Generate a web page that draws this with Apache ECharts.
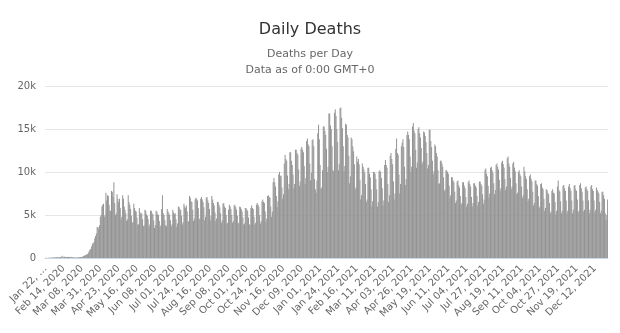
<!DOCTYPE html>
<html>
<head>
<meta charset="utf-8">
<script src="https://cdn.jsdelivr.net/npm/echarts@6/dist/echarts.min.js"></script>
<style>
html,body{margin:0;padding:0;background:#fff;}
#chart{width:620px;height:333px;}
</style>
</head>
<body>
<div id="chart"></div>
<script>
// First day of the series and number of days
const startDate = [2020, 0, 22];
// Daily deaths, one row per week (Wed..Tue)
const dailyDeaths = [
17,8,16,14,26,26,38,
43,46,45,57,64,66,73,
73,86,89,97,108,97,108,
254,13,143,142,106,98,136,
120,118,109,97,150,71,78,
60,45,60,70,58,70,80,
96,100,103,104,104,202,215,
272,335,360,425,425,620,800,
980,1050,1350,1650,1720,1850,2300,
2560,2850,3600,3600,3400,3800,4800,
5000,6000,6200,6300,4800,5000,7600,
6700,7300,7200,6200,5500,5500,7800,
7700,7100,8800,6400,5000,5200,7400,
6900,6500,6900,5800,4500,4800,7300,
6900,6000,5600,5200,4300,4500,7300,
6500,6200,5700,4900,4100,4200,6300,
5800,5500,5400,4700,3900,3900,5800,
5300,5100,5200,4500,3700,3800,5600,
5500,5100,4900,4500,3600,3900,5500,
5500,5200,5100,4400,3500,3800,5500,
5400,5100,5000,4300,3600,3800,5700,
7300,5200,5000,4400,3800,3700,5700,
5400,5200,5000,4400,3700,3900,5600,
5300,5100,5200,4500,3600,4000,6000,
5900,5600,5600,4900,3900,4200,6300,
6000,5800,6100,5400,4200,4300,7200,
7000,6600,6500,5600,4300,4600,6800,
7000,6900,6700,5800,4500,4600,6900,
7100,6800,6500,5900,4400,4800,7000,
7100,6700,6400,5700,4400,4900,7200,
6800,6400,6100,5300,4300,4600,6500,
6500,6200,5900,5200,4100,4400,6300,
6400,6000,5800,5000,4000,4100,5600,
6200,6000,5700,5000,4100,4300,6100,
6200,5900,5600,4900,4000,4100,6000,
5900,5700,5400,4700,3900,4000,5800,
5800,5600,5500,4700,3900,3900,5800,
6100,5800,5700,4800,3900,4100,6200,
6400,6200,6000,5000,4000,4300,6600,
6800,6500,6400,5400,4200,4600,7200,
7300,7100,7000,6000,4800,5400,8800,
9300,8800,8300,7200,5900,6600,9700,
10000,9500,9600,8200,6900,7400,11000,
12000,11500,11300,9600,8000,8600,12300,
12300,11300,10800,9700,8100,8600,12600,
12600,12200,12000,10300,8400,8900,12700,
12900,12600,12300,10700,8600,9300,13600,
13900,13200,13000,11000,9000,9900,13700,
13800,13000,9200,8000,7600,9000,14500,
15500,13800,10800,8000,8200,10200,15300,
15300,14800,14300,12700,10000,10600,16800,
16800,15400,15000,13000,10200,10100,16900,
17300,16500,15000,13500,10200,10900,17400,
17500,16300,15100,13000,10100,10700,15600,
15500,14300,14000,11900,8700,9500,14000,
13800,13000,12400,10900,8000,8200,11800,
11200,11500,10900,9100,6800,7300,11000,
10600,10300,9900,8600,6500,6800,10500,
10500,9800,9400,8000,6000,6600,10000,
10000,9800,9200,8000,6000,6500,10100,
10200,10000,9300,8100,6100,6700,10800,
11400,10800,10500,8600,6500,7300,11900,
12200,11500,10900,8900,6800,7500,12700,
13900,12200,12000,9700,7500,8600,13000,
13400,13800,12900,10600,8500,9200,14300,
14700,14300,13800,11800,10000,10600,15300,
15700,14800,14500,12600,10500,11100,15000,
15200,14500,14000,12800,10900,11200,14700,
14600,14200,13500,12200,10400,10800,14900,
14900,13600,12900,11300,9700,10100,13200,
13000,12200,11800,10200,8600,8700,11300,
11300,11000,10600,9400,7800,8000,10200,
10200,10000,9800,8400,7000,7300,9400,
9400,9000,8800,7700,6400,6700,8900,
9000,8500,8200,7200,6200,6400,8800,
8800,8400,8100,7100,6000,6300,8800,
9000,8600,8300,7100,6000,6400,8700,
8700,8400,8200,7200,6100,6500,8900,
8900,8600,8400,7400,6300,6800,10200,
10400,9800,9500,8400,7000,7500,10500,
10600,10200,9900,8700,7400,7900,10800,
11000,10600,10300,9100,7800,8100,11100,
11300,10900,10500,9200,7900,8300,11600,
11800,11000,10600,9300,8000,8300,11000,
11200,10500,10100,8700,7400,7600,10000,
10200,9700,9500,8300,7000,7300,10600,
10100,9500,9200,8000,6600,6900,9500,
9700,9200,8900,7700,6100,6400,9000,
9000,8600,8400,7200,5800,6000,8600,
8700,8200,8000,6900,5500,5800,8000,
7900,7600,7400,6400,5200,5400,7800,
8000,7600,7500,6500,5100,5500,8300,
9000,7900,7700,6600,5200,5500,8400,
8500,8100,7800,6700,5200,5500,8300,
8600,8100,7800,6700,5200,5600,8400,
8500,8000,7800,6800,5300,5500,8500,
8700,8100,7700,6700,5400,5600,8200,
8300,8000,7800,6700,5200,5600,8300,
8500,8000,7800,6700,5300,5600,8200,
7900,7700,7500,6500,5200,5500,7700,
7700,7300,6900,5200,4400,5000,6800
];
const yTicks = [0, 5000, 10000, 15000, 20000];
const yTickLabels = ['0', '5k', '10k', '15k', '20k'];
const titleText = 'Daily Deaths';
const subtitleLines = ['Deaths per Day', 'Data as of 0:00 GMT+0'];

const monthNames = ['Jan','Feb','Mar','Apr','May','Jun','Jul','Aug','Sep','Oct','Nov','Dec'];
const categories = dailyDeaths.map((_, i) => {
  const d = new Date(Date.UTC(startDate[0], startDate[1], startDate[2] + i));
  const dd = String(d.getUTCDate()).padStart(2, '0');
  return monthNames[d.getUTCMonth()] + ' ' + dd + ', ' + d.getUTCFullYear();
});

const font = 'DejaVu Sans, Lucida Grande, sans-serif';
const chart = echarts.init(document.getElementById('chart'), null, {renderer: 'canvas'});
chart.setOption({
  animation: false,
  backgroundColor: '#fff',
  title: [
    {text: titleText, left: 'center', top: 17, textStyle: {fontFamily: font, fontSize: 16, fontWeight: 'normal', color: '#333'}},
    {text: subtitleLines[0], left: 'center', top: 44, textStyle: {fontFamily: font, fontSize: 11, fontWeight: 'normal', color: '#666'}},
    {text: subtitleLines[1], left: 'center', top: 60, textStyle: {fontFamily: font, fontSize: 11, fontWeight: 'normal', color: '#666'}}
  ],
  grid: {left: 45, right: 12, top: 86, bottom: 75, containLabel: false},
  xAxis: {
    type: 'category',
    data: categories,
    boundaryGap: true,
    axisLine: {show: true, lineStyle: {color: '#ccd6eb'}},
    axisTick: {show: false},
    axisLabel: {
      interval: 22,
      rotate: 45,
      margin: 9,
      color: '#666',
      fontFamily: font,
      fontSize: 10,
      formatter: (v, i) => (i === 0 ? v.slice(0, 7) + ' \u2026' : v)
    },
    splitLine: {show: false}
  },
  yAxis: {
    type: 'value',
    min: yTicks[0],
    max: yTicks[yTicks.length - 1],
    interval: yTicks[1] - yTicks[0],
    axisLine: {show: false},
    axisTick: {show: false},
    axisLabel: {
      margin: 9,
      color: '#666',
      fontFamily: font,
      fontSize: 10,
      formatter: v => yTickLabels[yTicks.indexOf(v)]
    },
    splitLine: {lineStyle: {color: '#e6e6e6'}}
  },
  series: [{
    type: 'bar',
    data: dailyDeaths,
    itemStyle: {color: '#949494'},
    barCategoryGap: '10%',
    large: false
  }]
});
</script>
</body>
</html>
